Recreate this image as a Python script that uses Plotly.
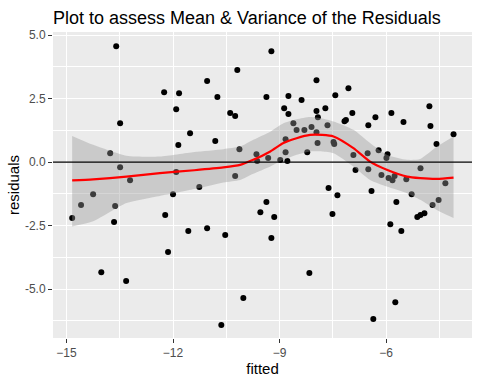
import plotly.graph_objects as go

# ---- data ----
fitted = [-14.84, -14.59, -14.25, -14.02, -13.77, -13.66, -13.63, -13.60, -13.49, -13.49,
          -13.32, -13.21, -12.25, -12.22, -12.14, -12.00, -11.91, -11.91, -11.85, -11.83,
          -11.57, -11.52, -11.26, -11.04, -11.04, -10.81, -10.75, -10.64, -10.53, -10.39,
          -10.25, -10.25, -10.19, -10.13, -10.02, -9.65, -9.63, -9.54, -9.37, -9.37,
          -9.32, -9.23, -9.23, -9.15, -8.98, -8.87, -8.83, -8.83, -8.78, -8.75,
          -8.75, -8.61, -8.52, -8.38, -8.30, -8.22, -8.16, -8.10, -7.96, -7.96,
          -7.96, -7.93, -7.92, -7.71, -7.65, -7.62, -7.51, -7.48, -7.46, -7.43,
          -7.37, -7.17, -7.13, -7.06, -6.95, -6.92, -6.86, -6.52, -6.50, -6.50,
          -6.41, -6.36, -6.30, -6.21, -6.13, -5.99, -5.96, -5.93, -5.88, -5.85,
          -5.82, -5.76, -5.74, -5.71, -5.57, -5.51, -5.43, -5.28, -5.12, -5.03,
          -5.03, -4.92, -4.78, -4.75, -4.69, -4.58, -4.52, -4.33, -4.10]
residuals = [-2.20, -1.69, -1.26, -4.33, 0.35, -2.36, -1.73, 4.56, 1.53, -0.20,
             -4.68, -0.71, 2.75, -2.08, -3.54, -1.26, 2.08, -0.39, 0.67, 2.71,
             -2.71, 1.14, -0.98, 3.19, -2.60, 0.83, 2.56, -6.41, -2.87, 1.93,
             1.81, -0.55, 3.62, 0.51, -5.35, 0.31, 0.04, -1.97, 2.56, -1.57,
             0.16, 4.36, -2.99, -2.16, 0.08, 2.12, 0.90, 0.39, 0.04, 2.60,
             1.89, 1.53, 1.26, 2.44, 1.26, 0.39, -4.36, 1.38, 3.22, 2.01,
             1.18, 0.75, 1.77, 2.12, 1.45, -1.02, -2.04, 0.79, 0.71, 2.63,
             -1.30, 1.61, 1.66, 2.91, 1.93, 0.28, -0.31, 0.35, 1.45, -0.28,
             -1.14, -6.17, 1.77, 0.47, -0.51, 0.16, 0.31, -0.62, -2.44, 1.93,
             -0.71, -0.55, -5.51, -1.57, -2.71, 1.58, -0.67, -1.26, -2.16, -0.24,
             -2.08, -2.01, 2.20, 1.42, -1.69, 0.71, -1.49, -0.83, 1.10]

# smoother (loess)
smooth_x = [-14.84, -14.25, -13.31, -12.37, -11.40, -10.58, -10.11, -9.74, -9.26, -8.89,
            -8.52, -8.14, -7.80, -7.48, -6.92, -6.45, -5.98, -5.41, -5.04, -4.57, -4.10]
smooth_y = [-0.72, -0.68, -0.57, -0.43, -0.32, -0.21, -0.11, 0.09, 0.42, 0.75,
            0.94, 1.07, 1.07, 1.01, 0.55, 0.02, -0.30, -0.57, -0.63, -0.66, -0.61]
smooth_hi = [1.03, 0.68, 0.25, 0.22, 0.40, 0.51, 0.61, 0.88, 1.20, 1.53,
             1.69, 1.78, 1.72, 1.60, 1.27, 0.75, 0.29, 0.09, 0.12, 0.61, 1.01]
smooth_lo = [-2.53, -2.33, -1.61, -1.33, -1.06, -0.80, -0.70, -0.46, -0.17, 0.09,
             0.29, 0.42, 0.42, 0.35, -0.17, -0.70, -0.96, -1.22, -1.48, -1.88, -2.20]

x_ticks = [-15, -12, -9, -6]
y_ticks = [-5.0, -2.5, 0.0, 2.5, 5.0]
y_tick_labels = ["-5.0", "-2.5", "0.0", "2.5", "5.0"]

FONT = "Liberation Sans, Arial, sans-serif"

fig = go.Figure()

fig.add_trace(go.Scatter(
    x=fitted, y=residuals, mode="markers",
    marker=dict(color="black", size=6, line=dict(width=0)),
    showlegend=False, hoverinfo="x+y"))

fig.add_trace(go.Scatter(
    x=smooth_x, y=smooth_lo, mode="lines", line=dict(width=0, shape="spline", smoothing=0.6),
    showlegend=False, hoverinfo="skip"))
fig.add_trace(go.Scatter(
    x=smooth_x, y=smooth_hi, mode="lines", line=dict(width=0, shape="spline", smoothing=0.6),
    fill="tonexty", fillcolor="rgba(153,153,153,0.4)",
    showlegend=False, hoverinfo="skip"))
fig.add_trace(go.Scatter(
    x=smooth_x, y=smooth_y, mode="lines",
    line=dict(color="#FF0000", width=2.2, shape="spline", smoothing=0.6),
    showlegend=False, hoverinfo="skip"))

fig.add_hline(y=0, line=dict(color="black", width=1.1), layer="above")

axis_common = dict(
    showgrid=True, gridcolor="white", gridwidth=1.1,
    zeroline=False, showline=False, automargin=False,
    ticks="outside", ticklen=4, tickwidth=1, tickcolor="#333333",
    tickfont=dict(family=FONT, size=12, color="#4D4D4D"),
)

fig.update_layout(
    width=480, height=384,
    margin=dict(l=53, r=8, t=32, b=46, autoexpand=False),
    paper_bgcolor="white", plot_bgcolor="#EBEBEB",
    title=dict(text="Plot to assess Mean & Variance of the Residuals",
               x=53 / 480, xanchor="left", y=1 - 18 / 384, yanchor="middle",
               font=dict(family=FONT, size=18, color="black")),
    xaxis=dict(range=[-15.38, -3.58], tickvals=x_ticks,
               minor=dict(tickvals=[-13.5, -10.5, -7.5, -4.5], showgrid=True,
                          gridcolor="white", gridwidth=0.55, ticks=""),
               title=dict(text="fitted", standoff=2,
                          font=dict(family=FONT, size=15, color="black")),
               **axis_common),
    yaxis=dict(range=[-6.92, 5.12], tickvals=y_ticks, ticktext=y_tick_labels,
               minor=dict(tickvals=[-6.25, -3.75, -1.25, 1.25, 3.75], showgrid=True,
                          gridcolor="white", gridwidth=0.55, ticks=""),
               title=dict(text="residuals", standoff=1,
                          font=dict(family=FONT, size=15, color="black")),
               **axis_common),
)

fig.write_html("out.html", config={"displayModeBar": False},
               post_script="document.body.style.margin='0';")
